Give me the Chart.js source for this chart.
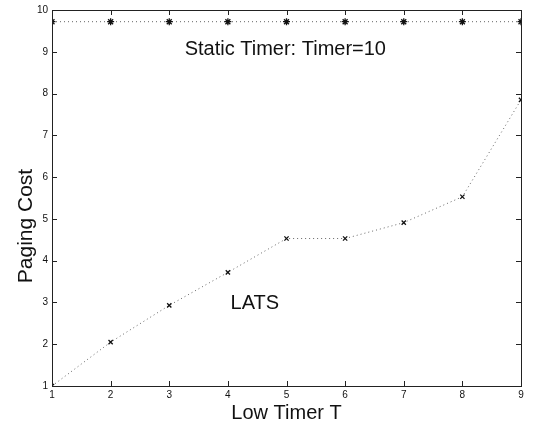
<!DOCTYPE html>
<html>
<head>
<meta charset="utf-8">
<script src="https://cdn.jsdelivr.net/npm/chart.js@4/dist/chart.umd.min.js"></script>
<style>
  html, body { margin: 0; padding: 0; background: #fff; }
  #wrap { width: 534px; height: 431px; }
</style>
</head>
<body>
<div id="wrap"><canvas id="paging"></canvas></div>
<script>
// data
const lowTimer = [1, 2, 3, 4, 5, 6, 7, 8, 9];
const latsCost = [1.0, 2.05, 2.93, 3.72, 4.53, 4.53, 4.91, 5.53, 7.85];
const staticCost = [9.72, 9.72, 9.72, 9.72, 9.72, 9.72, 9.72, 9.72, 9.72];
const yTicks = [1, 2, 3, 4, 5, 6, 7, 8, 9, 10];

const FONT = '"Liberation Sans", Arial, Helvetica, sans-serif';

// Helper: pair x values with a series
function points(ys) {
    return lowTimer.map((x, i) => ({ x: x, y: ys[i] }));
}

// Matlab-like box, inward ticks and in-plot labels
const boxPlugin = {
    id: 'box',
    afterDraw(chart) {
        const { ctx, chartArea: a, scales: { x, y } } = chart;
        ctx.save();
        ctx.strokeStyle = '#222';
        ctx.lineWidth = 1;
        ctx.strokeRect(a.left + 0.5, a.top + 0.5, a.right - a.left, a.bottom - a.top);

        const len = 5;
        ctx.beginPath();
        lowTimer.forEach(v => {
            const px = Math.round(x.getPixelForValue(v)) + 0.5;
            ctx.moveTo(px, a.bottom); ctx.lineTo(px, a.bottom - len);
            ctx.moveTo(px, a.top); ctx.lineTo(px, a.top + len);
        });
        yTicks.forEach(v => {
            const py = Math.round(y.getPixelForValue(v)) + 0.5;
            ctx.moveTo(a.left, py); ctx.lineTo(a.left + len, py);
            ctx.moveTo(a.right, py); ctx.lineTo(a.right - len, py);
        });
        ctx.stroke();

        ctx.fillStyle = '#111';
        ctx.font = '20px ' + FONT;
        ctx.textAlign = 'center';
        ctx.textBaseline = 'middle';
        ctx.fillText('Static Timer: Timer=10', x.getPixelForValue(4.98), y.getPixelForValue(9.05));
        ctx.fillText('LATS', x.getPixelForValue(4.46), y.getPixelForValue(2.98));

        // y axis title
        ctx.translate(26, 226);
        ctx.rotate(-Math.PI / 2);
        ctx.font = '21px ' + FONT;
        ctx.fillText('Paging Cost', 0, 0);
        ctx.restore();
    }
};

document.addEventListener('DOMContentLoaded', () => {
    const ctx = document.getElementById('paging').getContext('2d');

    new Chart(ctx, {
        type: 'scatter',
        data: {
            datasets: [
                {
                    label: 'Static Timer',
                    data: points(staticCost),
                    showLine: true,
                    borderColor: '#666',
                    borderWidth: 1,
                    borderDash: [1, 3],
                    pointStyle: 'star',
                    pointRadius: 3.5,
                    pointBorderWidth: 1.3,
                    pointBorderColor: '#111',
                    pointBackgroundColor: '#111'
                },
                {
                    label: 'LATS',
                    data: points(latsCost),
                    showLine: true,
                    borderColor: '#666',
                    borderWidth: 1,
                    borderDash: [1, 3],
                    pointStyle: 'crossRot',
                    pointRadius: 3,
                    pointBorderWidth: 1.3,
                    pointBorderColor: '#111'
                }
            ]
        },
        options: {
            responsive: true,
            maintainAspectRatio: false,
            animation: false,
            layout: { padding: { left: 0, right: 13, top: 9, bottom: 0 } },
            plugins: {
                legend: { display: false },
                tooltip: { enabled: false }
            },
            scales: {
                x: {
                    type: 'linear',
                    min: 1,
                    max: 9,
                    afterBuildTicks: s => { s.ticks = lowTimer.map(v => ({ value: v })); },
                    afterFit: s => { s.height = 45; },
                    grid: { display: false, drawTicks: false },
                    border: { display: false },
                    ticks: { color: '#111', font: { size: 10, family: FONT }, padding: 3 },
                    title: {
                        display: true,
                        text: 'Low Timer T',
                        color: '#111',
                        font: { size: 20, family: FONT },
                        padding: { top: 0, bottom: 6 }
                    }
                },
                y: {
                    min: 1,
                    max: 10,
                    afterBuildTicks: s => { s.ticks = yTicks.map(v => ({ value: v })); },
                    afterFit: s => { s.width = 52; },
                    grid: { display: false, drawTicks: false },
                    border: { display: false },
                    ticks: { color: '#111', font: { size: 10, family: FONT }, padding: 4 }
                }
            }
        },
        plugins: [boxPlugin]
    });
});
</script>
</body>
</html>
